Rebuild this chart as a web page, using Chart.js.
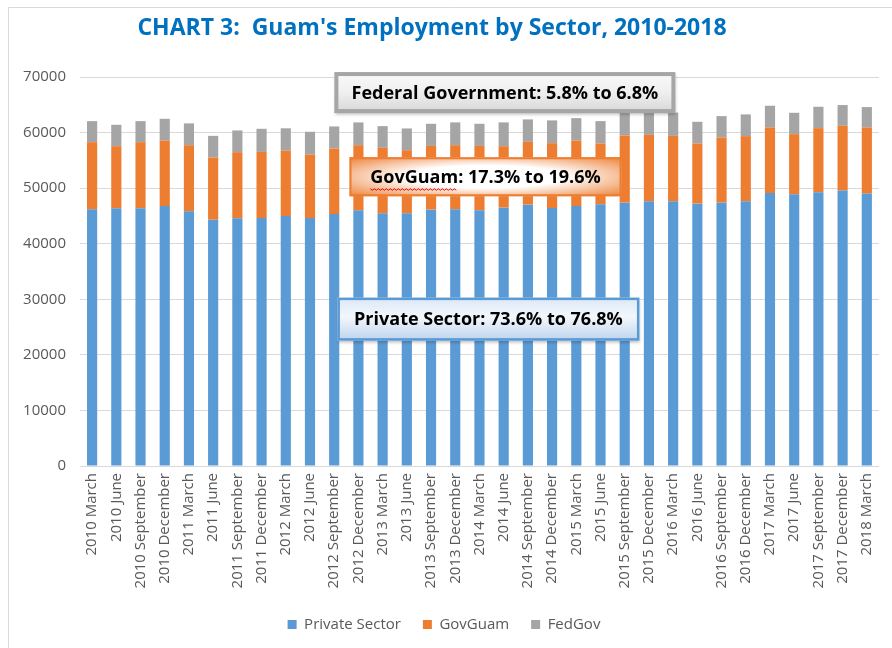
<!DOCTYPE html>
<html>
<head>
<meta charset="utf-8">
<script src="https://cdn.jsdelivr.net/npm/chart.js@4.4.0/dist/chart.umd.min.js"></script>
<style>
html,body{margin:0;padding:0;background:#fff;}
#wrap{width:892px;height:648px;position:relative;}
</style>
</head>
<body>
<div id="wrap"><canvas id="c" width="892" height="648"></canvas></div>
<script>
const categories = [
 "2010 March","2010 June","2010 September","2010 December",
 "2011 March","2011 June","2011 September","2011 December",
 "2012 March","2012 June","2012 September","2012 December",
 "2013 March","2013 June","2013 September","2013 December",
 "2014 March","2014 June","2014 September","2014 December",
 "2015 March","2015 June","2015 September","2015 December",
 "2016 March","2016 June","2016 September","2016 December",
 "2017 March","2017 June","2017 September","2017 December",
 "2018 March"
];
const privateSector = [46190,46370,46370,46780,45820,44320,44560,44620,44980,44620,45340,46000,45470,45470,46130,46190,46000,46490,47030,46420,46780,47090,47390,47630,47630,47210,47390,47630,49130,48890,49250,49560,49020];
const govGuam = [12080,11180,11900,11800,11910,11190,11910,11900,11790,11430,11790,11730,11780,11360,11470,11540,11600,11060,11300,11670,11800,10950,12090,11960,11780,10830,11730,11730,11800,10830,11550,11660,11910];
const fedGov = [3790,3850,3790,3900,3920,3900,3910,4160,4000,4090,3970,4100,3910,3910,3980,4100,3980,4280,4040,4100,4020,4020,4220,4210,4190,3900,3840,3910,3900,3840,3850,3730,3660];
const yTicks = [0,10000,20000,30000,40000,50000,60000,70000];

const FONT = "'Open Sans', 'Noto Sans', sans-serif";

// annotation boxes anchored in data space (category index, value)
const notes = [
  {text:"Federal Government: 5.8% to 6.8%", xi:17.05, yv:67200, w:341, h:41, kind:"fed"},
  {text:"GovGuam: 17.3% to 19.6%", xi:16.25, yv:52050, w:272, h:39, kind:"gov"},
  {text:"Private Sector: 73.6% to 76.8%", xi:16.37, yv:26430, w:302, h:43, kind:"priv"}
];

const decor = {
  id:'decor',
  beforeDraw(chart){
    const ctx = chart.ctx;
    ctx.save();
    ctx.fillStyle = '#fff';
    ctx.fillRect(0,0,chart.width,chart.height);
    ctx.strokeStyle = '#D9D9D9';
    ctx.lineWidth = 1;
    ctx.beginPath();
    ctx.moveTo(8.5, chart.height);
    ctx.lineTo(8.5, 7.5);
    ctx.lineTo(chart.width, 7.5);
    ctx.stroke();
    ctx.fillStyle = '#0070C0';
    ctx.font = "bold 23px " + FONT;
    ctx.textAlign = 'center';
    ctx.textBaseline = 'middle';
    ctx.fillText("CHART 3:  Guam's Employment by Sector, 2010-2018", 432, 28);
    ctx.restore();
  },
  afterDatasetsDraw(chart){
    const ctx = chart.ctx;
    const xs = chart.scales.x, ys = chart.scales.y;
    notes.forEach(n=>{
      const cx = xs.getPixelForValue(n.xi);
      const cy = ys.getPixelForValue(n.yv);
      const x = cx - n.w/2, y = cy - n.h/2;
      ctx.save();
      if(n.kind==='fed'){
        ctx.shadowColor='rgba(0,0,0,0.25)'; ctx.shadowBlur=3; ctx.shadowOffsetX=1; ctx.shadowOffsetY=2;
        const g = ctx.createLinearGradient(0,y,0,y+n.h);
        g.addColorStop(0,'#FAFAFA'); g.addColorStop(0.5,'#EFEFEF'); g.addColorStop(1,'#D6D6D6');
        ctx.fillStyle=g; ctx.fillRect(x,y,n.w,n.h);
        ctx.shadowColor='transparent';
        ctx.strokeStyle='#A6A6A6'; ctx.lineWidth=4;
        ctx.strokeRect(x+2,y+2,n.w-4,n.h-4);
      } else if(n.kind==='gov'){
        ctx.translate(cx,cy);
        ctx.scale(n.w/n.h,1);
        const r = n.h*0.72;
        const g = ctx.createRadialGradient(0,0,0,0,0,r);
        g.addColorStop(0,'#FFFFFF'); g.addColorStop(0.4,'#FFFFFF'); g.addColorStop(0.75,'#F4B183'); g.addColorStop(1,'#ED7D31');
        ctx.fillStyle=g;
        ctx.fillRect(-n.h/2,-n.h/2,n.h,n.h);
        ctx.setTransform(1,0,0,1,0,0);
        ctx.strokeStyle='#ED7D31'; ctx.lineWidth=2;
        ctx.strokeRect(x+1,y+1,n.w-2,n.h-2);
      } else {
        ctx.shadowColor='rgba(0,0,0,0.25)'; ctx.shadowBlur=3; ctx.shadowOffsetX=1; ctx.shadowOffsetY=2;
        const g = ctx.createLinearGradient(0,y,0,y+n.h);
        g.addColorStop(0,'#DCE8F6'); g.addColorStop(0.45,'#F2F7FC'); g.addColorStop(1,'#BDD3EE');
        ctx.fillStyle=g; ctx.fillRect(x,y,n.w,n.h);
        ctx.shadowColor='transparent';
        ctx.strokeStyle='#5B9BD5'; ctx.lineWidth=2.5;
        ctx.strokeRect(x+1.25,y+1.25,n.w-2.5,n.h-2.5);
      }
      ctx.restore();
      ctx.save();
      ctx.font = "bold 18px " + FONT;
      ctx.fillStyle = '#000';
      ctx.textAlign='center'; ctx.textBaseline='middle';
      ctx.fillText(n.text, cx, cy+1);
      if(n.kind==='gov'){
        const total = ctx.measureText(n.text).width;
        const wWord = ctx.measureText("GovGuam").width;
        let sx = cx - total/2, ey = cy + 12;
        ctx.strokeStyle = '#E00000'; ctx.lineWidth = 1;
        ctx.beginPath();
        for(let px=0; px<=wWord; px+=2){
          const yy = ey + ((px/2)%2===0 ? 0 : 1.5);
          if(px===0) ctx.moveTo(sx+px,yy); else ctx.lineTo(sx+px,yy);
        }
        ctx.stroke();
      }
      ctx.restore();
    });
  }
};

new Chart(document.getElementById('c'), {
  type:'bar',
  data:{
    labels:categories,
    datasets:[
      {label:'Private Sector', data:privateSector, backgroundColor:'#5B9BD5'},
      {label:'GovGuam', data:govGuam, backgroundColor:'#ED7D31'},
      {label:'FedGov', data:fedGov, backgroundColor:'#A5A5A5'}
    ]
  },
  options:{
    responsive:false,
    animation:false,
    devicePixelRatio:1,
    layout:{padding:{top:77,left:8,right:12,bottom:6}},
    datasets:{bar:{categoryPercentage:1.0, barPercentage:0.42}},
    plugins:{
      title:{display:false},
      tooltip:{enabled:false},
      legend:{
        position:'bottom',
        labels:{boxWidth:9, boxHeight:9, padding:22, color:'#595959', font:{family:FONT, size:15}}
      }
    },
    scales:{
      x:{
        stacked:true,
        grid:{display:false, drawTicks:false},
        border:{display:true, color:'#D9D9D9'},
        ticks:{minRotation:90, maxRotation:90, autoSkip:false, color:'#595959', padding:7, font:{family:FONT, size:15}},
        afterFit(s){ s.height = 129; }
      },
      y:{
        stacked:true,
        min:0, max:70000,
        afterBuildTicks(s){ s.ticks = yTicks.map(v=>({value:v})); },
        grid:{color:'#D9D9D9', drawTicks:false},
        border:{display:false},
        ticks:{color:'#595959', padding:14, font:{family:FONT, size:15}, callback:(v)=>String(v)},
        afterFit(s){ s.width = 72; }
      }
    }
  },
  plugins:[decor]
});
</script>
</body>
</html>
